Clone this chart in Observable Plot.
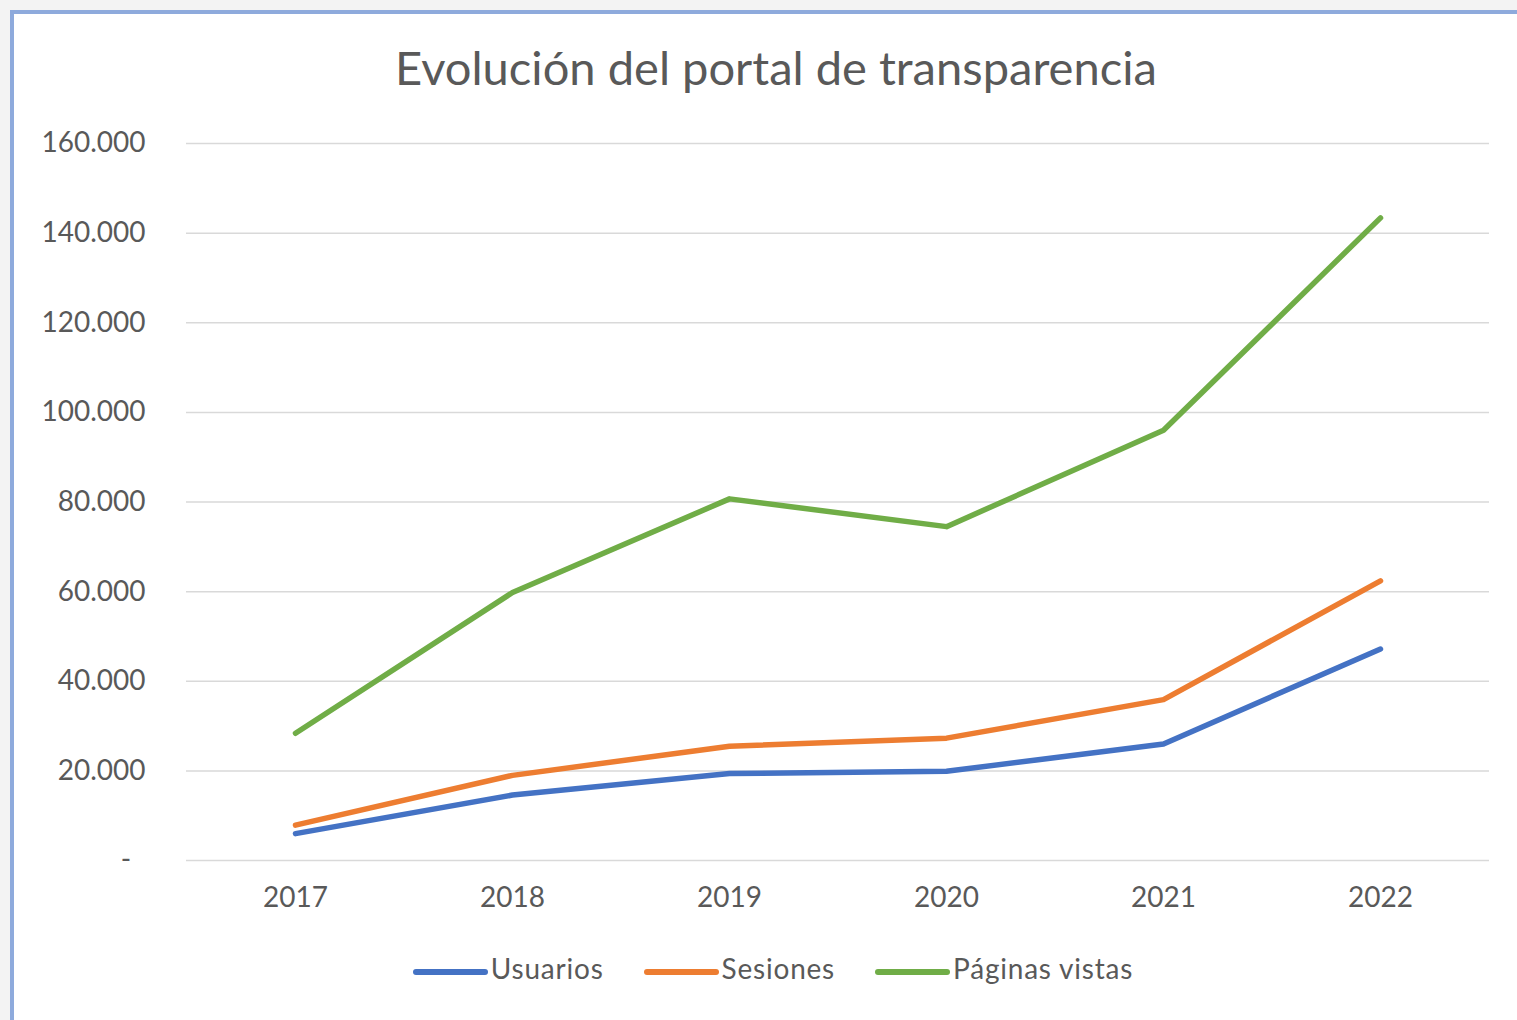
<!DOCTYPE html>
<html>
<head>
<meta charset="utf-8">
<script src="https://cdn.jsdelivr.net/npm/d3@7"></script>
<script src="https://cdn.jsdelivr.net/npm/@observablehq/plot@0.6"></script>
<style>
  html, body { margin: 0; padding: 0; background: #f3f3f3; width: 1517px; height: 1020px; overflow: hidden; }
  #frame { position: absolute; left: 10px; top: 10px; width: 1560px; height: 1060px; background: #ffffff;
           border-left: 4px solid #8eaadc; border-top: 4px solid #8eaadc; box-sizing: border-box; }
  #title { position: absolute; left: 0; width: 1552px; text-align: center; color: #595959; line-height: 1; white-space: nowrap; }
  #chart { position: absolute; left: 0; top: 0; }
  #legend { position: absolute; left: 0; width: 1546px; display: flex; justify-content: center; align-items: center; color: #595959; line-height: 1; letter-spacing: 0.8px; }
  .item { display: flex; align-items: center; margin: 0 20px; white-space: nowrap; }
  .sw { width: 75px; height: 5.5px; border-radius: 3px; margin-right: 3px; margin-top: 8px; }
</style>
</head>
<body>
<div id="frame"></div>
<div id="chart"></div>
<div id="title"></div>
<div id="legend"></div>
<script>
// ---- data ----
const chartTitle = "Evolución del portal de transparencia";
const years = ["2017", "2018", "2019", "2020", "2021", "2022"];
const usuarios = [6000, 14600, 19400, 19900, 26000, 47200];
const sesiones = [7900, 19000, 25500, 27300, 35900, 62400];
const paginasVistas = [28400, 59800, 80700, 74500, 96000, 143400];
const seriesNames = ["Usuarios", "Sesiones", "Páginas vistas"];
const seriesColors = ["#4472C4", "#ED7D31", "#70AD47"];
const yTicks = [0, 20000, 40000, 60000, 80000, 100000, 120000, 140000, 160000];

const seriesValues = [usuarios, sesiones, paginasVistas];
const rows = seriesNames.flatMap((name, s) =>
  years.map((year, i) => ({year, value: seriesValues[s][i], series: name})));

// ---- fonts ----
const FONT = "Lato, 'Open Sans', sans-serif";
const ctx = document.createElement("canvas").getContext("2d");
function fitSize(text, target) {
  ctx.font = `400 100px ${FONT}`;
  return 100 * target / ctx.measureText(text).width;
}
const tickFont = fitSize("160.000", 104);
const titleFont = fitSize(chartTitle, 762);

// ---- format ----
const es = d3.formatLocale({decimal: ",", thousands: ".", grouping: [3], currency: ["", ""]});
const fmt = d => d === 0 ? "-\u00a0\u00a0" : es.format(",")(d);

// ---- chart ----
const chart = Plot.plot({
  width: 1517,
  height: 940,
  marginLeft: 186,
  marginRight: 28,
  marginTop: 143,
  marginBottom: 80,
  style: {background: "none", fontFamily: FONT, fontSize: `${tickFont}px`, color: "#595959", overflow: "visible"},
  x: {type: "point", domain: years, padding: 0.49, label: null},
  y: {domain: [0, 160000], label: null},
  color: {domain: seriesNames, range: seriesColors},
  marks: [
    Plot.gridY(yTicks, {stroke: "#d9d9d9", strokeOpacity: 1, strokeWidth: 1.5}),
    Plot.axisY(yTicks, {tickSize: 0, tickPadding: 41, tickFormat: fmt, label: null}),
    Plot.axisX({tickSize: 0, tickPadding: 27, label: null}),
    Plot.line(rows, {x: "year", y: "value", z: "series", stroke: "series",
      strokeWidth: 5.5, strokeLinecap: "round", strokeLinejoin: "round"})
  ]
});
document.getElementById("chart").append(chart);

// ---- title ----
const t = document.getElementById("title");
t.textContent = chartTitle;
t.style.fontFamily = FONT;
t.style.fontSize = `${titleFont}px`;
t.style.top = `${52 - 0.17 * titleFont}px`;

// ---- legend ----
const lg = document.getElementById("legend");
lg.style.fontFamily = FONT;
lg.style.fontSize = `${tickFont}px`;
lg.style.top = `${968 - tickFont / 2}px`;
seriesNames.forEach((name, i) => {
  const it = document.createElement("div");
  it.className = "item";
  const sw = document.createElement("div");
  sw.className = "sw";
  sw.style.background = seriesColors[i];
  const tx = document.createElement("span");
  tx.textContent = name;
  it.append(sw, tx);
  lg.append(it);
});
</script>
</body>
</html>
